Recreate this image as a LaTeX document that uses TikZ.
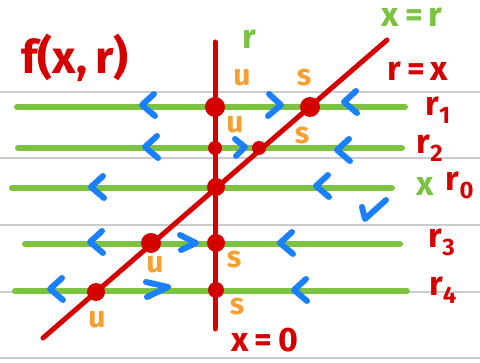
\documentclass[tikz,border=0pt]{standalone}
\usepackage{fontspec}
\setmainfont{Fira Sans}
\definecolor{rd}{HTML}{D40000}
\definecolor{gr}{HTML}{7DC242}
\definecolor{bl}{HTML}{1A80FF}
\definecolor{og}{HTML}{F5A030}
\definecolor{rule}{HTML}{CCCCCC}
\tikzset{
  ruleline/.style={rule, line width=2},
  rline/.style={gr, line width=6, line cap=round},
  redline/.style={rd, line width=5, line cap=round},
  dot/.style={circle, fill=rd, inner sep=0pt, minimum size=#1},
  chev/.style={bl, line width=6, line cap=round, line join=round},
  lchev/.pic={\draw[chev] (12,-11) -- (0,0) -- (13,11);},
  rchev/.pic={\draw[chev] (-12,-11) -- (0,0) -- (-13,11);},
  lab/.style={font=\bfseries\fontsize{34}{34}\selectfont, inner sep=0pt},
  sm/.style={font=\bfseries\fontsize{30}{30}\selectfont, inner sep=0pt, og},
}
\begin{document}
\begin{tikzpicture}[x=1pt,y=-1pt]
\useasboundingbox (0,0) rectangle (480,363);
\fill[white] (0,0) rectangle (480,363);
% notebook rules
\foreach \y in {92,158,225,292,358} \draw[ruleline] (0,\y) -- (480,\y);
% r lines
\coordinate (a1) at (17,107);  \coordinate (b1) at (405,107);
\coordinate (a2) at (18,148);  \coordinate (b2) at (402,148);
\coordinate (a0) at (12,188);  \coordinate (b0) at (392,188);
\coordinate (a3) at (25,244);  \coordinate (b3) at (400,244);
\coordinate (a4) at (15,291);  \coordinate (b4) at (407,291);
\foreach \i in {1,2,0,3,4} \draw[rline] (a\i) -- (b\i);
% red curves
\coordinate (vt) at (215,42); \coordinate (vb) at (215,329);
\coordinate (dl) at (43,338); \coordinate (du) at (387,40);
\draw[redline] (vt) -- (vb);
\draw[redline] (dl) -- (du);
% fixed points
\node[dot=20] (p1) at (215,107) {};
\node[dot=20] (q1) at (310,107) {};
\node[dot=14] (p2) at (215,148) {};
\node[dot=14] (q2) at (259,148) {};
\node[dot=18] (p0) at (216,187) {};
\node[dot=20] (q3) at (151,243) {};
\node[dot=18] (p3) at (216,243) {};
\node[dot=18] (q4) at (96,292) {};
\node[dot=16] (p4) at (216,290) {};
% flow arrows
\pic at (142,105) {lchev};
\pic at (281,105) {rchev};
\pic at (344,102) {lchev};
\pic at (145,147) {lchev};
\draw[chev] (235,139) -- (245,147) -- (236,156);
\pic at (337,150) {lchev};
\pic at (91,187) {lchev};
\pic at (316,186) {lchev};
\draw[chev] (362,207) -- (365,219) -- (386,200);
\pic at (90,242) {lchev};
\draw[chev] (180,235) -- (196,243) -- (181,250);
\pic at (280,243) {lchev};
\pic at (50,289) {lchev};
\draw[chev] (146,282) -- (168,287) -- (147,297);
\pic at (294,290) {lchev};
% stability labels
\node[sm] (u1) at (242,78) {u};
\node[sm] (s1) at (304,78) {s};
\node[sm] (u2) at (235,125) {u};
\node[sm] (s2) at (302,136) {s};
\node[sm] (s3) at (234,260) {s};
\node[sm] (u3) at (155,265) {u};
\node[sm] (s4) at (237,307) {s};
\node[sm] (u4) at (97,320) {u};
% titles
\node[lab, rd, font=\bfseries\fontsize{46}{46}\selectfont] (f) at (75,58) {f(x,\,r)};
\node[lab, gr] (rax) at (249,39) {r};
\node[lab, gr] (xr) at (412,17) {x\,=\,r};
\node[lab, rd] (rx) at (418,71) {r\,=\,x};
\node[lab, rd] (r1) at (438,110) {r\textsubscript{1}};
\node[lab, rd] (r2) at (430,148) {r\textsubscript{2}};
\node[lab, gr] (x0) at (425,186) {x};
\node[lab, rd] (r0) at (460,185) {r\textsubscript{0}};
\node[lab, rd] (r3) at (442,242) {r\textsubscript{3}};
\node[lab, rd] (r4) at (443,290) {r\textsubscript{4}};
\node[lab, rd] (x00) at (265,340) {x\,=\,0};
\end{tikzpicture}
\end{document}
